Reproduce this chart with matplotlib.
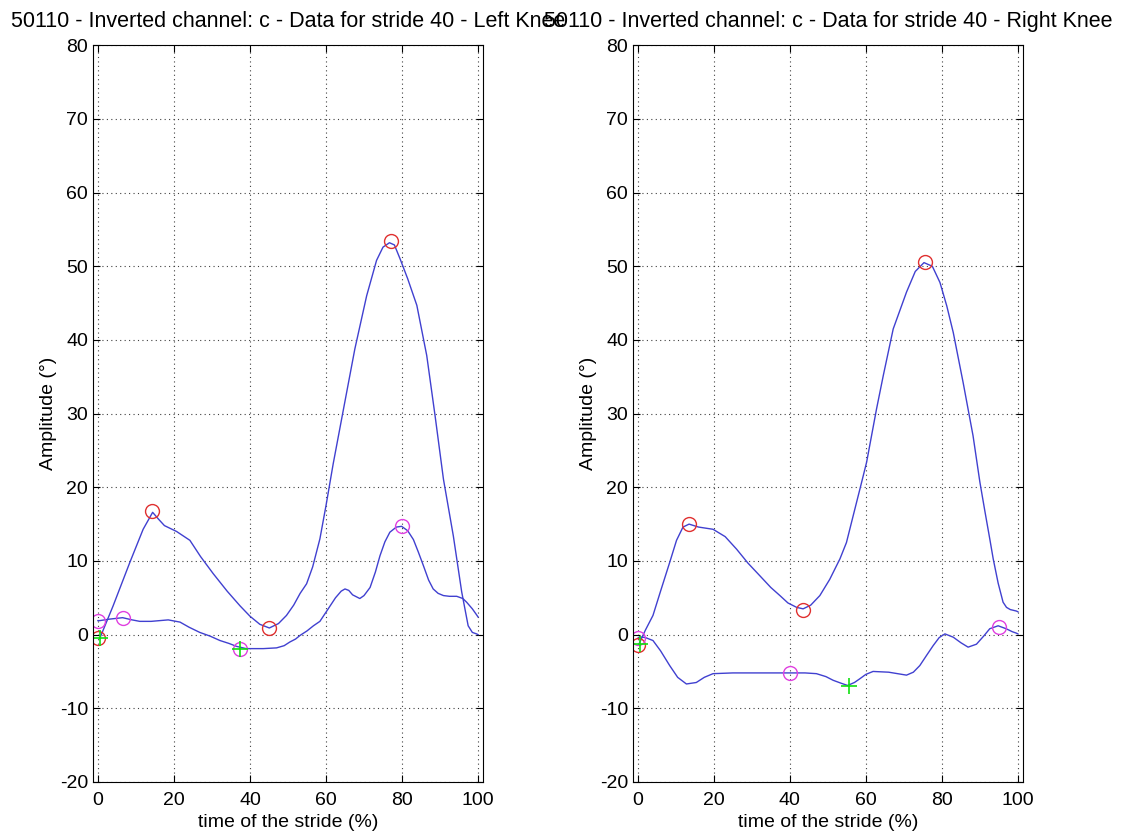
import numpy as np
import matplotlib
matplotlib.use("Agg")
import matplotlib.pyplot as plt

plt.rcParams['font.family'] = ['Liberation Sans', 'DejaVu Sans']
plt.rcParams['axes.unicode_minus'] = False

# left knee
left_big_x = [0.5, 4, 8.4, 11.9, 14.4, 15.9, 17.5, 20.7, 24.2, 27, 30.3, 34, 37.4, 40, 42.6, 45.1, 47.5, 49.6,
              51.5, 53.2, 54.9, 56.5, 58.4, 60, 61.9, 64.6, 67.6, 70.7, 73.3, 75, 76.7, 78, 79.5, 81.5, 83.9,
              86.5, 88.7, 90.9, 93.5, 95.7, 97.4, 98.5, 99.6, 100]
left_big_y = [-0.5, 3.9, 9.8, 14.3, 16.6, 15.7, 14.8, 14.0, 12.8, 10.6, 8.3, 5.9, 3.9, 2.5, 1.4, 0.9, 1.5, 2.6,
              4.0, 5.6, 6.9, 9.2, 13.0, 17.5, 23.2, 30.6, 38.8, 46.0, 50.8, 52.6, 53.2, 52.9, 51.0, 48.3, 44.7,
              37.9, 29.7, 21.1, 13.4, 5.8, 1.2, 0.3, 0.1, 0.0]
left_small_x = [0, 0.5, 3, 6.5, 9, 11, 14, 18.5, 21.6, 24, 26.8, 29.5, 32.1, 34.5, 36.5, 39, 43.5, 47, 49,
                50.5, 52, 53.2, 55, 56.7, 58.4, 60.2, 62.5, 64, 65, 66, 67, 68.9, 70, 71.6, 73, 74.2, 75.5,
                76.8, 78.5, 79.9, 81.5, 83, 84.3, 85.6, 87, 88.2, 89.5, 90.9, 92.5, 94.4, 96, 97, 98.5, 99.6, 100]
left_small_y = [1.9, 1.9, 2.1, 2.3, 2.0, 1.8, 1.8, 2.0, 1.7, 1.0, 0.3, -0.2, -0.8, -1.2, -1.6, -1.9, -1.9, -1.8,
                -1.5, -1.0, -0.6, -0.1, 0.5, 1.2, 1.8, 3.2, 5.0, 5.9, 6.2, 6.0, 5.4, 4.9, 5.3, 6.4, 8.5, 10.7,
                12.6, 13.9, 14.6, 14.7, 14.1, 12.9, 11.2, 9.4, 7.4, 6.2, 5.6, 5.3, 5.2, 5.2, 4.9, 4.4, 3.5, 2.7, 2.4]

left_red_x = [0, 14.3, 45, 77]
left_red_y = [-0.5, 16.8, 0.9, 53.4]
left_mag_x = [0, 6.5, 37.5, 80]
left_mag_y = [1.9, 2.2, -1.9, 14.7]
left_green_x = [0.5, 37.5]
left_green_y = [-0.5, -1.9]

# right knee
right_big_x = [0.3, 2, 4, 6, 8.4, 10.2, 11.9, 13.5, 16, 19.8, 23, 26, 29, 32.1, 35, 37.4, 39.5, 41.8, 43.5,
               45.5, 47.9, 50.5, 53.2, 54.9, 56.7, 58.9, 60.2, 62.8, 64.6, 67.2, 70.7, 73, 75.3, 77.5, 79.5,
               81.3, 83, 85.6, 88.2, 90, 91.3, 92.6, 93.5, 94.8, 96.1, 97, 98, 99.6, 100]
right_big_y = [-1.3, 0.6, 2.6, 5.9, 9.8, 12.8, 14.6, 15.0, 14.6, 14.3, 13.3, 11.6, 9.7, 8.0, 6.4, 5.3, 4.3, 3.7,
               3.5, 4.0, 5.3, 7.5, 10.3, 12.5, 16.2, 20.7, 23.4, 30.6, 35.2, 41.5, 46.5, 49.3, 50.5, 50.0, 47.8,
               44.6, 41.0, 34.2, 27.0, 20.7, 16.8, 13.0, 10.3, 7.0, 4.4, 3.7, 3.4, 3.2, 3.1]
right_small_x = [0, 0.5, 2, 4, 6, 8.4, 10.5, 12.8, 15.4, 17.5, 19.8, 25, 30.3, 35, 39.8, 44, 47, 49.5, 51.4,
                 53.5, 55.2, 57, 58.4, 60, 61.9, 66, 70.7, 72.5, 74.2, 76, 77.7, 79.3, 80.8, 83, 85, 86.9, 89.1,
                 91, 92.6, 94.8, 96.9, 98.5, 99.6, 100]
right_small_y = [-0.5, -0.3, -0.4, -0.8, -2.2, -4.2, -5.8, -6.7, -6.5, -5.8, -5.3, -5.2, -5.2, -5.2, -5.2, -5.2,
                 -5.3, -5.7, -6.2, -6.6, -6.9, -6.5, -6.0, -5.4, -5.0, -5.1, -5.5, -5.1, -4.2, -2.8, -1.5, -0.4,
                 0.1, -0.35, -1.1, -1.7, -1.3, -0.2, 0.8, 1.2, 0.8, 0.4, 0.2, 0.1]

right_red_x = [0, 13.5, 43.5, 75.5]
right_red_y = [-1.45, 15.0, 3.4, 50.6]
right_mag_x = [0, 40, 95]
right_mag_y = [-0.5, -5.2, 1.1]
right_green_x = [0.5, 55.5]
right_green_y = [-1.3, -7.0]

titles = ["50110 - Inverted channel: c - Data for stride 40 - Left Knee",
          "50110 - Inverted channel: c - Data for stride 40 - Right Knee"]
x_ticks = [0, 20, 40, 60, 80, 100]
y_ticks = [-20, -10, 0, 10, 20, 30, 40, 50, 60, 70, 80]

line_color = '#4040d0'
fig = plt.figure(figsize=(11.24, 8.39), dpi=100)
ax_left = fig.add_axes([0.0827, 0.068, 0.347, 0.878])
ax_right = fig.add_axes([0.563, 0.068, 0.347, 0.878])

panels = [
    (ax_left, left_big_x, left_big_y, left_small_x, left_small_y, left_red_x, left_red_y,
     left_mag_x, left_mag_y, left_green_x, left_green_y, titles[0]),
    (ax_right, right_big_x, right_big_y, right_small_x, right_small_y, right_red_x, right_red_y,
     right_mag_x, right_mag_y, right_green_x, right_green_y, titles[1]),
]

for ax, bx, by, sx, sy, rx, ry, mx, my, gx, gy, title in panels:
    ax.plot(bx, by, color=line_color, lw=1.0)
    ax.plot(sx, sy, color=line_color, lw=1.0)
    ax.plot(rx, ry, 'o', mfc='none', mec='#e03030', ms=10, mew=1.0)
    ax.plot(mx, my, 'o', mfc='none', mec='#e040e0', ms=10, mew=1.0)
    ax.plot(gx, gy, '+', color='#10e010', ms=11, mew=1.2)
    ax.set_xlim(-1.3, 101.3)
    ax.set_ylim(-20, 80)
    ax.set_xticks(x_ticks)
    ax.set_yticks(y_ticks)
    ax.tick_params(direction='in', top=True, right=True, labelsize=14, length=5, width=0.8)
    ax.tick_params(axis='x', pad=7)
    ax.grid(True, linestyle=(0, (1, 3)), color='#404040', lw=0.8)
    for sp in ax.spines.values():
        sp.set_linewidth(0.8)
    ax.set_title(title, fontsize=15.5, pad=13)
    ax.set_xlabel('time of the stride (%)', fontsize=14, labelpad=4)
    ax.set_ylabel('Amplitude (°)', fontsize=14, labelpad=2)

fig.savefig('out.png', dpi=100)
